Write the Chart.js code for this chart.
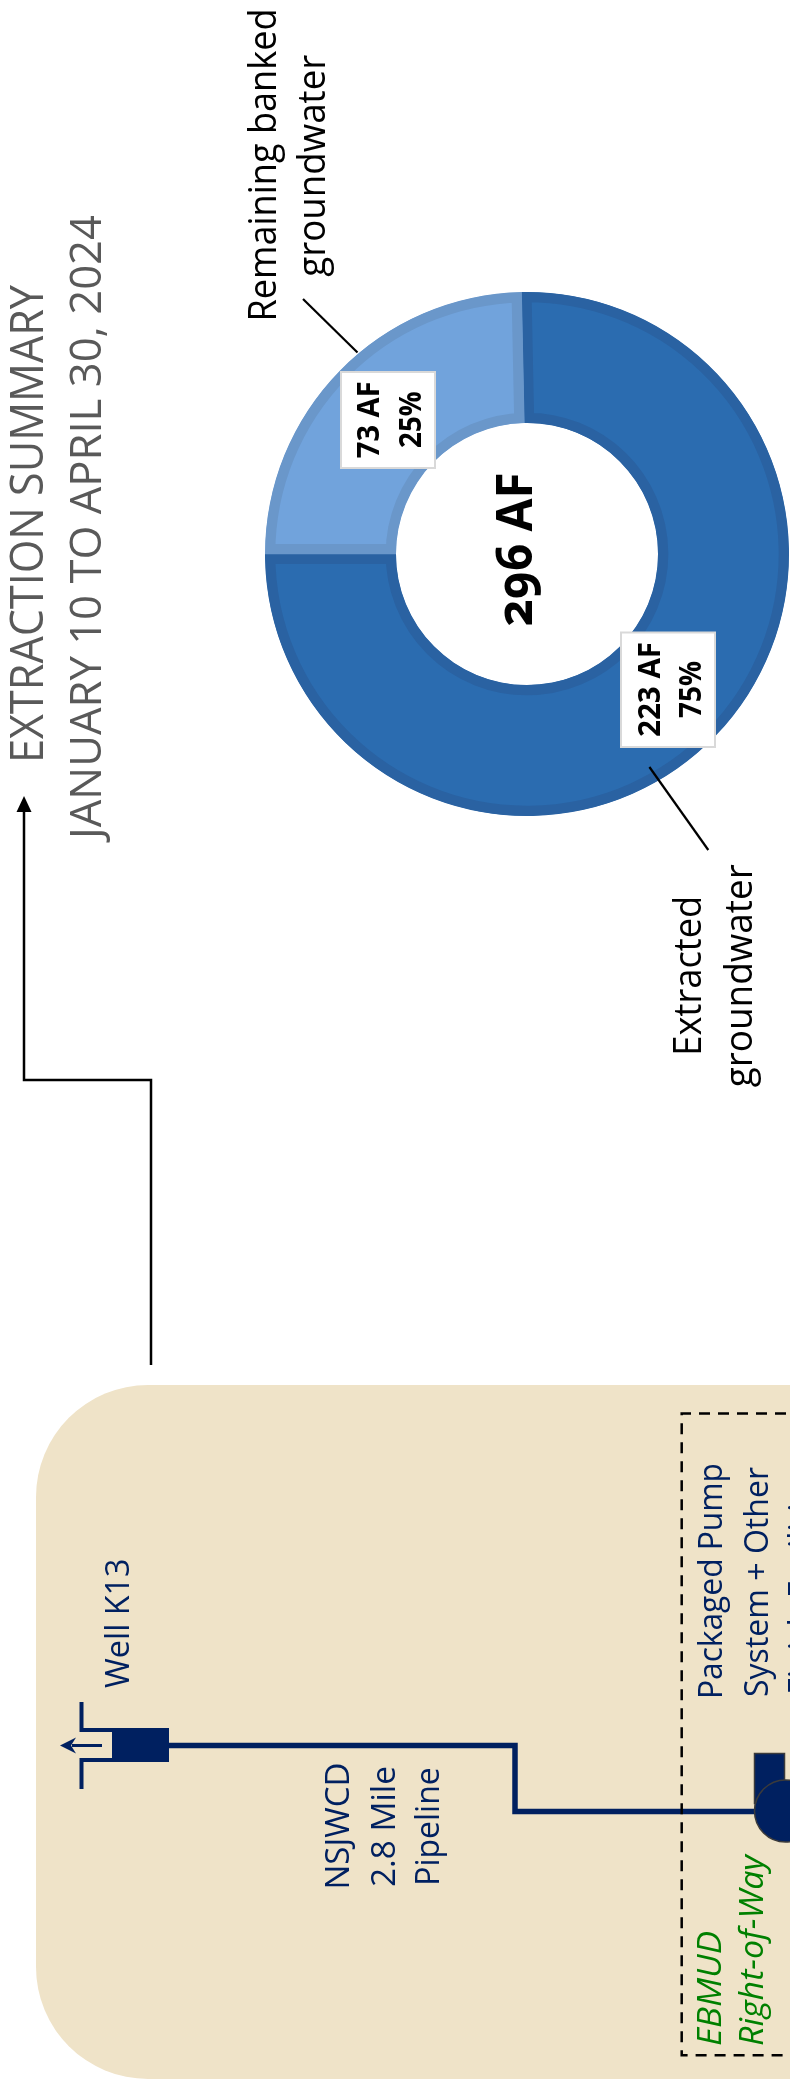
<!DOCTYPE html>
<html>
<head>
<meta charset="utf-8">
<title>Extraction summary</title>
<script src="https://cdn.jsdelivr.net/npm/chart.js@4/dist/chart.umd.js"></script>
<style>
    html, body { margin: 0; padding: 0; width: 790px; height: 2087px; overflow: hidden; background: #ffffff; }
    #diagram { position: absolute; left: 0; top: 0; z-index: 2; }
    #chartBox { position: absolute; left: 265px; top: 292px; width: 524px; height: 524px; z-index: 1; }
    text { font-family: "Open Sans", sans-serif; }
</style>
</head>
<body>
<div id="chartBox"><canvas id="donut" width="524" height="524"></canvas></div>
<svg id="diagram" width="790" height="2087" viewBox="0 0 790 2087" xmlns="http://www.w3.org/2000/svg">
    <!-- pijl van het schema naar het overzicht -->
    <polyline points="151,1365 151,1080 24,1080 24,808" fill="none" stroke="#000000" stroke-width="2.5"/>
    <polygon points="24,796 16.5,812 31.5,812" fill="#000000"/>

    <!-- lijntjes naar de donut -->
    <line x1="303" y1="299" x2="357.5" y2="352.5" stroke="#000000" stroke-width="2.2"/>
    <line x1="649.4" y1="767" x2="708.3" y2="850" stroke="#000000" stroke-width="2.2"/>

    <!-- schema -->
    <rect x="36" y="1385" width="900" height="694" rx="112" ry="112" fill="#efe3c8"/>
    <polyline points="169,1745.5 515,1745.5 515,1811.5 760,1811.5" fill="none" stroke="#002060" stroke-width="5.5"/>
    <rect x="112" y="1728" width="57" height="34" fill="#002060"/>
    <polyline points="81.5,1702 81.5,1730 112,1730" fill="none" stroke="#002060" stroke-width="4"/>
    <polyline points="81.5,1789 81.5,1760 112,1760" fill="none" stroke="#002060" stroke-width="4"/>
    <line x1="72" y1="1745.5" x2="102" y2="1745.5" stroke="#002060" stroke-width="3"/>
    <polygon points="60,1745.5 76,1737.5 71,1745.5 76,1753.5" fill="#002060"/>
    <rect x="754.5" y="1753.5" width="30" height="50" fill="#002060" stroke="#3b3b3b" stroke-width="1.5"/>
    <circle cx="785.5" cy="1811" r="31" fill="#002060" stroke="#3b3b3b" stroke-width="1.5"/>
    <polyline points="900,1413.5 681.7,1413.5 681.7,2055.3 900,2055.3" fill="none" stroke="#000000" stroke-width="2.5" stroke-dasharray="11 8"/>

    <!-- witte labels op de donut -->
    <rect x="341" y="372" width="94" height="96" fill="#ffffff" stroke="#d9d9d9" stroke-width="2"/>
    <rect x="621" y="632.5" width="94" height="114.5" fill="#ffffff" stroke="#d9d9d9" stroke-width="2"/>
</svg>

<script>
// Waarden (acre-feet).
var categories = ["Extracted groundwater", "Remaining banked groundwater"];
var volumes = [223, 73];
var sliceColors = ["#2b6cb0", "#71a3dc"];
var sliceBorders = ["#2a62a2", "#6a97ca"];

document.addEventListener("DOMContentLoaded", function () {
    setupDonut();
    setupTexts();
});

function setupDonut() {
    new Chart(document.getElementById("donut"), {
        type: "doughnut",
        data: {
            labels: categories,
            datasets: [{
                data: volumes,
                backgroundColor: sliceColors,
                borderColor: sliceBorders,
                borderWidth: 10,
                borderAlign: "inner",
                borderJoinStyle: "miter"
            }]
        },
        options: {
            responsive: false,
            animation: false,
            cutout: "50%",
            // de eerste punt begint net links van boven, de tweede eindigt precies op boven
            rotation: -1.2,
            plugins: {
                legend: { display: false },
                tooltip: { enabled: false }
            }
        }
    });
}

function total() {
    return volumes[0] + volumes[1];
}

function percent(value) {
    return Math.round(value / total() * 100) + "%";
}

// Alles in deze figuur staat een kwartslag gedraaid: x is de basislijn, y het begin van de tekst.
function addText(content, x, y, size, length, options) {
    var settings = options || {};
    var svg = document.getElementById("diagram");
    var node = document.createElementNS("http://www.w3.org/2000/svg", "text");

    node.textContent = content;
    node.setAttribute("transform", "translate(" + x + " " + y + ") rotate(-90)");
    node.setAttribute("font-size", size);
    node.setAttribute("fill", settings.color || "#000000");
    node.setAttribute("textLength", length);
    node.setAttribute("lengthAdjust", "spacingAndGlyphs");
    if (settings.weight) {
        node.setAttribute("font-weight", settings.weight);
    }
    if (settings.italic) {
        node.setAttribute("font-style", "italic");
    }
    if (settings.oldStyle) {
        node.style.fontFeatureSettings = '"onum"';
    }
    svg.appendChild(node);
}

function setupTexts() {
    var gray = "#595959";
    var navy = "#002060";
    var green = "#008000";

    addText("EXTRACTION SUMMARY", 42.7, 763, 45, 478, { color: gray });
    addText("JANUARY 10 TO APRIL 30, 2024", 100.7, 839, 44, 624, { color: gray });

    addText("Remaining banked", 275.7, 321.5, 38, 313);
    addText("groundwater", 325, 276.7, 38, 222);
    addText("Extracted", 701, 1055.7, 38, 160);
    addText("groundwater", 751.7, 1087.3, 38, 223);

    addText(total() + " AF", 531.8, 626.4, 50, 154, { weight: 700, oldStyle: true });
    addText(volumes[1] + " AF", 378.5, 458.2, 31, 76.8, { weight: 700 });
    addText(percent(volumes[1]), 421.3, 447.9, 31, 56.5, { weight: 700 });
    addText(volumes[0] + " AF", 659.8, 737, 31, 95, { weight: 700 });
    addText(percent(volumes[0]), 701, 718, 31, 57, { weight: 700 });

    addText("Well K13", 128.5, 1688, 33, 129.5, { color: navy });
    addText("NSJWCD", 349, 1889.5, 33, 127, { color: navy });
    addText("2.8 Mile", 394.5, 1887, 33, 121, { color: navy });
    addText("Pipeline", 439.3, 1885.8, 33, 118.5, { color: navy });
    addText("Packaged Pump", 722.3, 1699, 33, 236, { color: navy });
    addText("System + Other", 768.3, 1697, 33, 230, { color: navy });
    addText("Finish Facilities", 812, 1695, 33, 225, { color: navy });
    addText("EBMUD", 720.7, 2046, 33, 115, { color: green, italic: true });
    addText("Right-of-Way", 763.3, 2046, 33, 191, { color: green, italic: true });
}
</script>
</body>
</html>
